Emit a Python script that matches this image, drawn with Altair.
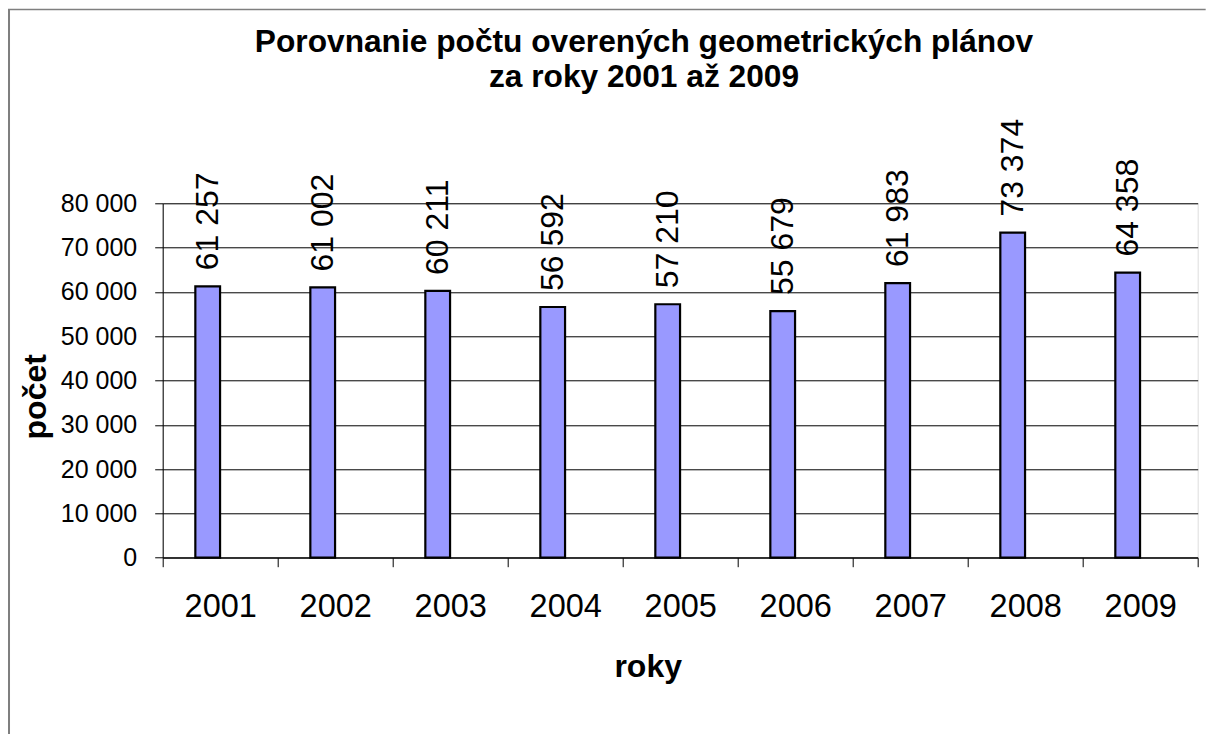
import altair as alt
import pandas as pd

years = ["2001", "2002", "2003", "2004", "2005", "2006", "2007", "2008", "2009"]
counts = [61257, 61002, 60211, 56592, 57210, 55679, 61983, 73374, 64358]
y_ticks = [0, 10000, 20000, 30000, 40000, 50000, 60000, 70000, 80000]
title_lines = ["Porovnanie počtu overených geometrických plánov", "za roky 2001 až 2009"]
x_title = "roky"
y_title = "počet"

df = pd.DataFrame({"rok": years, "pocet": counts})
df["label"] = [f"{v:,}".replace(",", " ") for v in counts]

W = 1035
H = 354.4
FONT = "Liberation Sans"

xscale = alt.Scale(domain=years, paddingInner=0, paddingOuter=0)
yscale = alt.Scale(domain=[0, 80000], nice=False)

x_axis = alt.Axis(
    title=x_title, titleFontSize=32, titleFontWeight="bold", titleFont=FONT,
    titleColor="black", titleX=485, titleY=119, titleBaseline="alphabetic",
    titleAlign="center",
    labelFontSize=32.5, labelFont=FONT, labelColor="black", labelAngle=0,
    labelBaseline="alphabetic", labelPadding=50, labelOverlap=False,
    tickBand="extent", tickSize=9, tickColor="black", tickWidth=1,
    domainColor="black", domainWidth=1, grid=False,
)
y_axis = alt.Axis(
    values=y_ticks,
    labelExpr="replace(format(datum.value, ','), ',', ' ')",
    labelFontSize=25, labelFont=FONT, labelColor="black", labelPadding=18,
    tickSize=8, tickColor="black", tickWidth=1,
    domainColor="black", domainWidth=1,
    grid=True, gridColor="black", gridWidth=1, gridOpacity=1,
    title=y_title, titleFontSize=32, titleFontWeight="bold", titleFont=FONT,
    titleColor="black", titleX=-117.7, titleY=193, titleBaseline="alphabetic",
    titleAlign="center", titleAngle=270,
)

base = alt.Chart(df)

bars = base.mark_bar(
    color="#9999FF", stroke="black", strokeWidth=2.2,
    width=alt.RelativeBandSize(0.215), xOffset=-12.5,
).encode(
    x=alt.X("rok:N", scale=xscale, sort=years, axis=x_axis),
    y=alt.Y("pocet:Q", scale=yscale, axis=y_axis),
)

labels = base.mark_text(
    angle=270, align="left", baseline="middle", dx=16, xOffset=-12.5,
    fontSize=32, font=FONT, color="black",
).encode(
    x=alt.X("rok:N", scale=xscale, sort=years),
    y=alt.Y("pocet:Q", scale=yscale),
    text="label:N",
)

one = alt.Chart(pd.DataFrame({"a": [0]}))
border_left = one.mark_rule(color="#7f7f7f", strokeWidth=2).encode(
    x=alt.value(-153.7), y=alt.value(-194.3), y2=alt.value(H + 200)
)
border_top = one.mark_rule(color="#7f7f7f", strokeWidth=1.5).encode(
    x=alt.value(-154.7), x2=alt.value(W + 8), y=alt.value(-193.8)
)

title1 = one.mark_text(
    fontSize=31.7, fontWeight="bold", font=FONT, color="black",
    align="center", baseline="alphabetic",
).encode(x=alt.value(481.3), y=alt.value(-151.6), text=alt.value(title_lines[0]))
title2 = one.mark_text(
    fontSize=31.7, fontWeight="bold", font=FONT, color="black",
    align="center", baseline="alphabetic",
).encode(x=alt.value(481.3), y=alt.value(-116.6), text=alt.value(title_lines[1]))

chart = alt.layer(bars, labels, border_left, border_top, title1, title2).properties(
    width=W, height=H,
    autosize=alt.AutoSizeParams(type="none"),
    padding={"left": 154.7, "top": 195.3, "right": 8, "bottom": 176},
).configure_view(stroke="transparent").configure(background="white")

chart.save("out.html", embed_options={"renderer": "svg", "actions": False})
